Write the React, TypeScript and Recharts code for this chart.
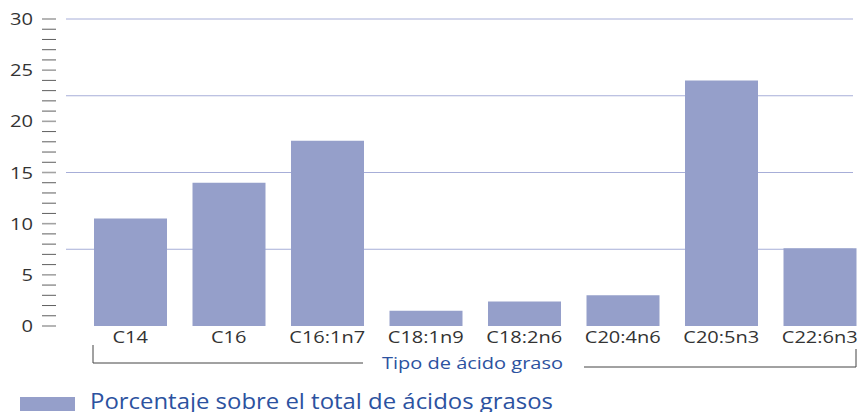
import React from 'react';
import { BarChart, Bar, XAxis, YAxis, CartesianGrid, Legend } from 'recharts';

const categories = ['C14', 'C16', 'C16:1n7', 'C18:1n9', 'C18:2n6', 'C20:4n6', 'C20:5n3', 'C22:6n3'];
const percentages = [10.5, 14.0, 18.1, 1.5, 2.4, 3.0, 24.0, 7.6];
const yTicks = [0, 1, 2, 3, 4, 5, 6, 7, 8, 9, 10, 11, 12, 13, 14, 15, 16, 17, 18, 19, 20, 21, 22, 23, 24, 25, 26, 27, 28, 29, 30];
const gridValues = [7.5, 15, 22.5, 30];
const seriesName = 'Porcentaje sobre el total de ácidos grasos';
const axisTitle = 'Tipo de ácido graso';

const data = categories.map((c, i) => ({ name: c, value: percentages[i] }));

const BAR = '#959fca';
const GRID = '#a7aed8';
const TEXT = '#333333';
const BLUE = '#2c52a0';
const FONT = "'Open Sans', sans-serif";

const YTick = (props: any) => {
  const { y, payload } = props;
  const v = payload.value;
  const major = v % 5 === 0;
  return (
    <g>
      <line x1={42} x2={56} y1={y} y2={y} stroke={major ? '#a3a3a3' : '#5e5e5e'} strokeWidth={major ? 1.6 : 1} />
      {major && (
        <text
          transform={`translate(33, ${y}) scale(1.3,1)`}
          textAnchor="end"
          dominantBaseline="central"
          fontFamily={FONT}
          fontSize={15.5}
          fill={TEXT}
        >
          {v}
        </text>
      )}
    </g>
  );
};

const XTick = (props: any) => {
  const { x, y, payload } = props;
  return (
    <text
      transform={`translate(${x}, ${y + 17}) scale(1.25,1)`}
      textAnchor="middle"
      fontFamily={FONT}
      fontSize={16}
      fill={TEXT}
    >
      {payload.value}
    </text>
  );
};

const AxisTitle = () => (
  <g>
    <polyline points="93,345 93,363 363,363" fill="none" stroke="#444" strokeWidth={1} />
    <polyline points="584,367 856,367 856,349" fill="none" stroke="#444" strokeWidth={1} />
    <text x={382} y={369} fontFamily={FONT} fontSize={15.5} fill={BLUE} textLength={181} lengthAdjust="spacingAndGlyphs">
      {axisTitle}
    </text>
  </g>
);

const LegendContent = () => (
  <svg width={859} height={30} style={{ display: 'block' }}>
    <rect x={20} y={9} width={55} height={14} fill={BAR} />
    <text x={90} y={21} fontFamily={FONT} fontSize={21} fill={BLUE} textLength={463} lengthAdjust="spacingAndGlyphs">
      {seriesName}
    </text>
  </svg>
);

export default function App() {
  return (
    <div style={{ position: 'absolute', left: 0, top: 0, width: 859, height: 412, overflow: 'hidden', background: '#fff' }}>
      <BarChart width={880} height={412} data={data} margin={{ top: 19, right: 11, left: 0, bottom: 56 }}>
        <CartesianGrid
          vertical={false}
          horizontalValues={gridValues}
          horizontal={(p: any) => (
            <line key={p.key} x1={p.x1} x2={p.x2 - 16} y1={p.y1} y2={p.y2} stroke={GRID} strokeWidth={1} />
          )}
        />
        <XAxis
          dataKey="name"
          height={30}
          axisLine={false}
          tickLine={false}
          tickSize={0}
          tickMargin={0}
          interval={0}
          padding={{ left: 15, right: 0 }}
          tick={<XTick />}
          label={{ content: () => <AxisTitle /> }}
        />
        <YAxis
          width={66}
          domain={[0, 30]}
          ticks={yTicks}
          interval={0}
          axisLine={false}
          tickLine={false}
          tick={<YTick />}
        />
        <Legend layout="horizontal" verticalAlign="middle" align="center" content={<LegendContent />} wrapperStyle={{ left: 0, top: 388, width: 859, height: 30 }} />
        <Bar dataKey="value" name={seriesName} fill={BAR} barSize={73} isAnimationActive={false} />
      </BarChart>
    </div>
  );
}
